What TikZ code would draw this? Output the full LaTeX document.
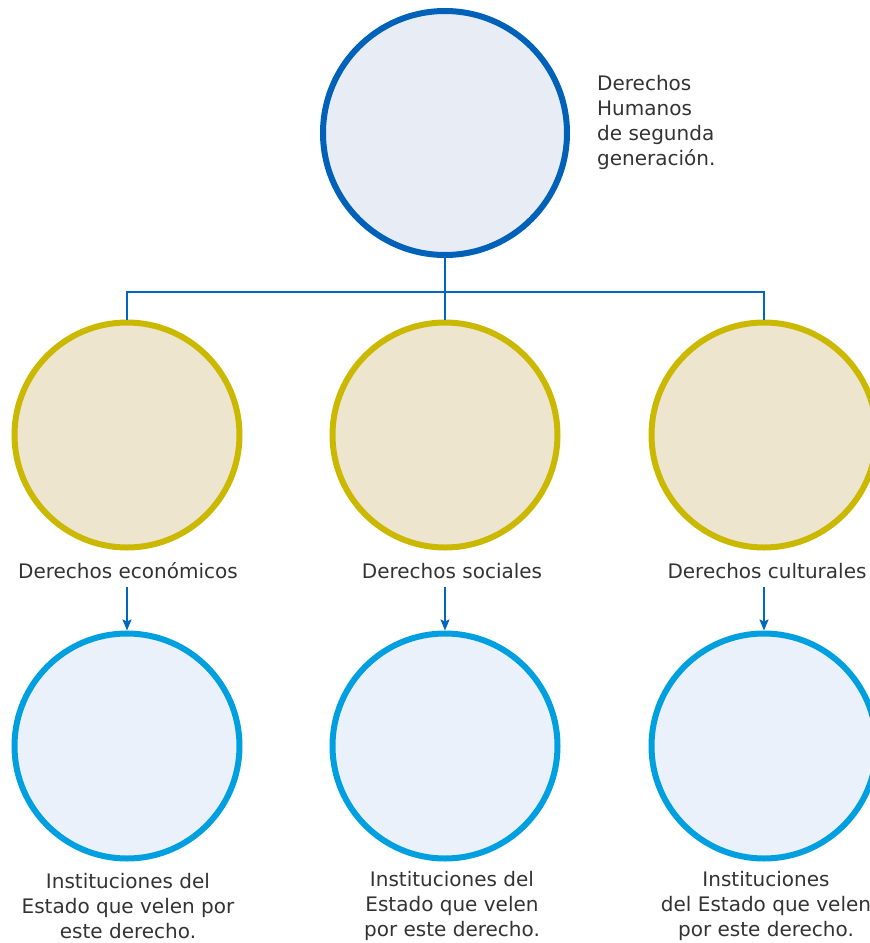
\documentclass[tikz,border=0pt]{standalone}
\usepackage{fontspec}
\setmainfont{DejaVu Sans}
\usetikzlibrary{arrows.meta}
\definecolor{topblue}{HTML}{0061B8}
\definecolor{topfill}{HTML}{E8ECF5}
\definecolor{olive}{HTML}{CBB800}
\definecolor{olivefill}{HTML}{EDE5CE}
\definecolor{skyblue}{HTML}{00A0E0}
\definecolor{skyfill}{HTML}{EAF1FA}
\definecolor{linkblue}{HTML}{0066C0}
\definecolor{txt}{HTML}{333333}
\tikzset{
  ring/.style={circle, line width=6pt, inner sep=0pt, minimum size=225pt},
  kind/.style={ring, draw=olive, fill=olivefill},
  inst/.style={ring, draw=skyblue, fill=skyfill},
  lbl/.style={text=txt, inner sep=0pt, align=center,
    font=\fontsize{20}{25}\selectfont},
  link/.style={draw=linkblue, line width=1.8pt},
  down/.style={link, -{Stealth[length=11pt,width=9pt,inset=2pt]}}
}

\begin{document}
\begin{tikzpicture}[x=1pt, y=-1pt]
    \useasboundingbox (0,0) rectangle (870,943);
    \clip (0,0) rectangle (870,943);
    % top circle
    \node[ring, minimum size=244pt, draw=topblue, fill=topfill] (top) at (445,133) {};
    \node[lbl, align=left, anchor=west] (title) at (597,122)
        {Derechos\\Humanos\\de segunda\\generación.};
    % the three kinds of rights
    \node[kind] (eco) at (127,435) {};
    \node[kind] (soc) at (445,435) {};
    \node[kind] (cul) at (764,435) {};
    \coordinate (bus) at (445,292);
    \draw[link] (top.south) -- (bus);
    \draw[link] (eco.north) |- (bus) -| (cul.north);
    \draw[link] (bus) -- (soc.north);
    \node[lbl] (ecotxt) at (128,571) {Derechos económicos};
    \node[lbl] (soctxt) at (452,571) {Derechos sociales};
    \node[lbl] (cultxt) at (767,571) {Derechos culturales};
    % institutions
    \node[inst] (ecoinst) at (127,746) {};
    \node[inst] (socinst) at (445,746) {};
    \node[inst] (culinst) at (764,746) {};
    \draw[down] ([yshift=-8pt]ecotxt.south -| ecoinst.north) -- (ecoinst.north);
    \draw[down] ([yshift=-8pt]soctxt.south -| socinst.north) -- (socinst.north);
    \draw[down] ([yshift=-8pt]cultxt.south -| culinst.north) -- (culinst.north);
    \node[lbl] (ecodesc) at (128,906)
        {Instituciones del\\Estado que velen por\\este derecho.};
    \node[lbl] (socdesc) at (452,906)
        {Instituciones del\\Estado que velen\\por este derecho.};
    \node[lbl] (culdesc) at (766,906)
        {Instituciones\\del Estado que velen\\por este derecho.};
\end{tikzpicture}
\end{document}
